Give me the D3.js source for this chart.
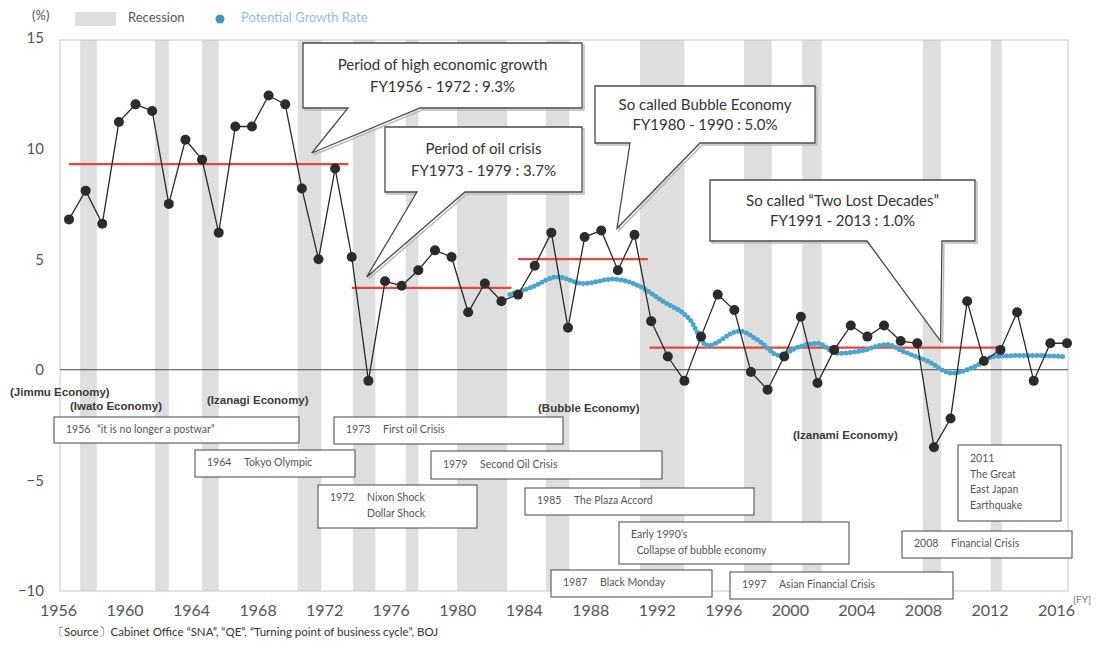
<!DOCTYPE html>
<html>
<head>
<meta charset="utf-8">
<script src="https://cdn.jsdelivr.net/npm/d3@7/dist/d3.min.js"></script>
<style>
  body { margin: 0; background: #fff; }
  svg { display: block; }
</style>
</head>
<body>
<svg id="chart" width="1100" height="648"></svg>
<script>
// ---- Data ----------------------------------------------------------------
// Real GDP growth rate by fiscal year (%)
const fiscalYears = d3.range(1956, 2017);
const realGrowth = [
  6.8, 8.1, 6.6, 11.2, 12.0, 11.7, 7.5, 10.4, 9.5, 6.2,      // 1956-1965
  11.0, 11.0, 12.4, 12.0, 8.2, 5.0, 9.1, 5.1, -0.5, 4.0,     // 1966-1975
  3.8, 4.5, 5.4, 5.1, 2.6, 3.9, 3.1, 3.4, 4.7, 6.2,          // 1976-1985
  1.9, 6.0, 6.3, 4.5, 6.1, 2.2, 0.6, -0.5, 1.5, 3.4,         // 1986-1995
  2.7, -0.1, -0.9, 0.6, 2.4, -0.6, 0.9, 2.0, 1.5, 2.0,       // 1996-2005
  1.3, 1.2, -3.5, -2.2, 3.1, 0.4, 0.9, 2.6, -0.5, 1.2,       // 2006-2015
  1.2                                                        // 2016
];

// Potential growth rate (%), fiscal-year positions
const potentialYears = [1982.5, 1983.7, 1985.4, 1986.9, 1988.7, 1990.1, 1991.7, 1993.3,
  1994.4, 1996.3, 1997.5, 1998.7, 1999.9, 2001.0, 2002.2, 2003.6, 2005.2, 2006.1,
  2007.6, 2009.1, 2010.6, 2011.6, 2013.6, 2015.9];
const potentialGrowth = [3.4, 3.7, 4.2, 3.9, 4.1, 3.85, 3.1, 2.3,
  1.1, 1.75, 1.3, 0.65, 1.05, 1.2, 0.75, 0.85, 1.15, 0.85,
  0.4, -0.15, 0.2, 0.6, 0.65, 0.6];

// Recessions: business-cycle peak and trough (calendar year, decimal months)
const recessionStart = [1957.42, 1961.92, 1964.75, 1970.50, 1973.83, 1977.00, 1980.08,
  1985.42, 1991.08, 1997.33, 2000.83, 2008.08, 2012.17];
const recessionEnd = [1958.42, 1962.75, 1965.75, 1971.92, 1975.17, 1977.75, 1983.08,
  1986.83, 1993.75, 1999.00, 2002.00, 2009.17, 2012.83];

// Period averages (%), with the span of fiscal years each line covers
const periodFrom = [1956, 1973, 1983, 1990.9];
const periodTo = [1972.8, 1982.6, 1990.8, 2012];
const periodAverage = [9.3, 3.7, 5.0, 1.0];
const periodTitle = ["Period of high economic growth", "Period of oil crisis",
  "So called Bubble Economy", "So called \u201cTwo Lost Decades\u201d"];
const periodRange = ["FY1956 - 1972 : 9.3%", "FY1973 - 1979 : 3.7%",
  "FY1980 - 1990 : 5.0%", "FY1991 - 2013 : 1.0%"];
// Point each period callout refers to (fiscal year, %)
const periodPointYear = [1970.6, 1973.9, 1988.95, 2008.4];
const periodPointValue = [9.8, 4.2, 6.4, 1.3];

// Economy booms
const economyNames = ["(Jimmu Economy)", "(Iwato Economy)", "(Izanagi Economy)",
  "(Bubble Economy)", "(Izanami Economy)"];

// Events
const eventYears = ["1956", "1964", "1973", "1972", "1979", "1985", "", "1987", "1997", "", "2008"];
const eventLines = [
  ["\u201cit is no longer a postwar\u201d"],
  ["Tokyo Olympic"],
  ["First oil Crisis"],
  ["Nixon Shock", "Dollar Shock"],
  ["Second Oil Crisis"],
  ["The Plaza Accord"],
  ["Early 1990\u2019s", "  Collapse of bubble economy"],
  ["Black Monday"],
  ["Asian Financial Crisis"],
  ["2011", "The Great", "East Japan", "Earthquake"],
  ["Financial Crisis"]
];

const tickYears = [1956, 1960, 1964, 1968, 1972, 1976, 1980, 1984, 1988, 1992, 1996, 2000, 2004, 2008, 2012, 2016];
const yTicks = [15, 10, 5, 0, -5, -10];

// ---- Layout --------------------------------------------------------------
const svg = d3.select("#chart");
const plot = { left: 60, right: 1068, top: 38, bottom: 591 };
const x = d3.scaleLinear().domain([1956, 2016]).range([69, 1067]);
const y = d3.scaleLinear().domain([-10, 15]).range([591, 38]);
const FONT = "Lato, 'Open Sans', sans-serif";

// Recession bands (fiscal year starts in April; points sit mid-year)
const calToPos = d => d - 0.75;
svg.append("g").selectAll("rect")
  .data(d3.range(recessionStart.length))
  .join("rect")
  .attr("x", i => x(calToPos(recessionStart[i])))
  .attr("width", i => x(calToPos(recessionEnd[i])) - x(calToPos(recessionStart[i])))
  .attr("y", plot.top + 2)
  .attr("height", plot.bottom - plot.top - 2)
  .attr("fill", "#dedede");

// Plot frame
svg.append("rect")
  .attr("x", plot.left).attr("y", plot.top + 2)
  .attr("width", plot.right - plot.left).attr("height", plot.bottom - plot.top - 2)
  .attr("fill", "none").attr("stroke", "#c8c8c8").attr("stroke-width", 1);

// Zero line
svg.append("line")
  .attr("x1", plot.left).attr("x2", plot.right)
  .attr("y1", y(0)).attr("y2", y(0))
  .attr("stroke", "#444").attr("stroke-width", 1.1);

// Y axis
const yAxis = svg.append("g")
  .attr("transform", `translate(44,0)`)
  .call(d3.axisLeft(y).tickValues(yTicks).tickSize(0).tickPadding(0).tickFormat(d3.format("d")));
yAxis.select(".domain").remove();
yAxis.selectAll("text")
  .attr("font-family", FONT).attr("font-size", 15).attr("fill", "#555");

// X axis (labels sit at the start of each fiscal-year column)
const xAxis = svg.append("g")
  .attr("transform", `translate(0,${plot.bottom + 14})`)
  .call(d3.axisBottom(x).tickValues(tickYears).tickSize(0).tickPadding(0).tickFormat(d3.format("d")));
xAxis.select(".domain").remove();
xAxis.selectAll("text")
  .attr("dx", -11)
  .attr("font-family", FONT).attr("font-size", 16).attr("fill", "#555");

svg.append("text").text("[FY]")
  .attr("x", 1073).attr("y", 603)
  .attr("font-family", FONT).attr("font-size", 10).attr("fill", "#777");

// Period average lines
svg.append("g").selectAll("line")
  .data(d3.range(periodAverage.length))
  .join("line")
  .attr("x1", i => x(periodFrom[i])).attr("x2", i => x(periodTo[i]))
  .attr("y1", i => y(periodAverage[i])).attr("y2", i => y(periodAverage[i]))
  .attr("stroke", "#e2483e").attr("stroke-width", 2.2);

// Potential growth rate, dotted
const potLine = d3.line()
  .x(i => x(potentialYears[i]))
  .y(i => y(potentialGrowth[i]))
  .curve(d3.curveMonotoneX);
svg.append("path")
  .attr("d", potLine(d3.range(potentialYears.length)))
  .attr("fill", "none")
  .attr("stroke", "#4aa6cd")
  .attr("stroke-width", 5)
  .attr("stroke-linecap", "round")
  .attr("stroke-dasharray", "0 4.3");

// Real growth line and markers
const growthLine = d3.line()
  .x(i => x(fiscalYears[i]))
  .y(i => y(realGrowth[i]));
svg.append("path")
  .attr("d", growthLine(d3.range(fiscalYears.length)))
  .attr("fill", "none").attr("stroke", "#2a2a2a").attr("stroke-width", 1.3);
svg.append("g").selectAll("circle")
  .data(d3.range(fiscalYears.length))
  .join("circle")
  .attr("cx", i => x(fiscalYears[i]))
  .attr("cy", i => y(realGrowth[i]))
  .attr("r", 5)
  .attr("fill", "#2b2b2b");

// Economy boom labels
const economyPos = [[10, 393], [70, 407], [207, 401], [538, 409], [793, 436]];
svg.append("g").selectAll("text")
  .data(economyNames)
  .join("text")
  .text(d => d)
  .attr("x", (d, i) => economyPos[i][0])
  .attr("y", (d, i) => economyPos[i][1])
  .attr("dominant-baseline", "middle")
  .attr("font-family", "'Liberation Sans', Arial, sans-serif")
  .attr("font-weight", "bold")
  .attr("font-size", 11.5)
  .attr("fill", "#3a3a3a");

// Period callouts: box, pointer base on the bottom edge
const calloutBox = [
  { x0: 303, y0: 43, x1: 582, y1: 108, b0: 348, b1: 420 },
  { x0: 385, y0: 127, x1: 582, y1: 192, b0: 417, b1: 465 },
  { x0: 595, y0: 86, x1: 815, y1: 143, b0: 630, b1: 700 },
  { x0: 710, y0: 180, x1: 975, y1: 241, b0: 867, b1: 942 }
];
const calloutPath = (b, tx, ty) =>
  `M${b.x0},${b.y0}H${b.x1}V${b.y1}H${b.b1}L${tx},${ty}L${b.b0},${b.y1}H${b.x0}Z`;
const callouts = svg.append("g").selectAll("g")
  .data(d3.range(calloutBox.length))
  .join("g");
callouts.append("path")
  .attr("d", i => calloutPath(calloutBox[i], x(periodPointYear[i]), y(periodPointValue[i])))
  .attr("transform", "translate(2,2)")
  .attr("fill", "none").attr("stroke", "#bbb").attr("stroke-width", 1.5);
callouts.append("path")
  .attr("d", i => calloutPath(calloutBox[i], x(periodPointYear[i]), y(periodPointValue[i])))
  .attr("fill", "#fff").attr("stroke", "#4a4a4a").attr("stroke-width", 1.3)
  .attr("stroke-linejoin", "miter");
callouts.append("text")
  .attr("x", i => (calloutBox[i].x0 + calloutBox[i].x1) / 2)
  .attr("y", i => calloutBox[i].y0 + (calloutBox[i].y1 - calloutBox[i].y0) * 0.36)
  .attr("text-anchor", "middle").attr("dominant-baseline", "middle")
  .attr("font-family", FONT).attr("font-size", 15).attr("fill", "#333")
  .text(i => periodTitle[i]);
callouts.append("text")
  .attr("x", i => (calloutBox[i].x0 + calloutBox[i].x1) / 2)
  .attr("y", i => calloutBox[i].y0 + (calloutBox[i].y1 - calloutBox[i].y0) * 0.7)
  .attr("text-anchor", "middle").attr("dominant-baseline", "middle")
  .attr("font-family", FONT).attr("font-size", 15).attr("fill", "#333")
  .text(i => periodRange[i]);

// Event boxes
const eventBox = [
  [54, 417, 299, 443], [195, 450, 355, 477], [334, 417, 563, 444], [318, 485, 477, 528],
  [431, 451, 662, 479], [525, 488, 754, 515], [619, 522, 849, 564], [551, 570, 712, 597],
  [730, 572, 953, 599], [958, 445, 1061, 521], [902, 531, 1072, 558]
];
const events = svg.append("g").selectAll("g")
  .data(d3.range(eventBox.length))
  .join("g");
events.append("rect")
  .attr("x", i => eventBox[i][0]).attr("y", i => eventBox[i][1])
  .attr("width", i => eventBox[i][2] - eventBox[i][0])
  .attr("height", i => eventBox[i][3] - eventBox[i][1])
  .attr("fill", "#fff").attr("stroke", "#555").attr("stroke-width", 1.1);
events.each(function (i) {
  const g = d3.select(this);
  const [x0, y0, x1, y1] = eventBox[i];
  const lines = eventLines[i];
  const step = lines.length > 2 ? 15.5 : 16;
  const top = (y0 + y1) / 2 - (lines.length - 1) * step / 2;
  const textX = x0 + 12;
  const labelX = eventYears[i] ? textX + (i === 0 ? 31 : 37) : textX;
  if (eventYears[i]) {
    g.append("text").text(eventYears[i])
      .attr("x", textX).attr("y", top)
      .attr("dominant-baseline", "middle")
      .attr("font-family", FONT).attr("font-size", 10.5).attr("fill", "#555");
  }
  lines.forEach((ln, k) => {
    g.append("text").text(ln)
      .attr("x", labelX).attr("y", top + k * step)
      .attr("dominant-baseline", "middle")
      .attr("xml:space", "preserve")
      .style("white-space", "pre")
      .attr("font-family", FONT).attr("font-size", 10.5).attr("fill", "#555");
  });
});

// Legend
svg.append("text").text("(%)")
  .attr("x", 32).attr("y", 17).attr("dominant-baseline", "middle")
  .attr("font-family", FONT).attr("font-size", 13).attr("fill", "#555");
svg.append("rect")
  .attr("x", 75).attr("y", 12).attr("width", 41).attr("height", 14)
  .attr("fill", "#dedede");
svg.append("text").text("Recession")
  .attr("x", 128).attr("y", 19).attr("dominant-baseline", "middle")
  .attr("font-family", FONT).attr("font-size", 13).attr("fill", "#555");
svg.append("circle")
  .attr("cx", 220).attr("cy", 19).attr("r", 4.5).attr("fill", "#3f97bd");
svg.append("text").text("Potential Growth Rate")
  .attr("x", 241).attr("y", 19).attr("dominant-baseline", "middle")
  .attr("font-family", FONT).attr("font-size", 13).attr("fill", "#93bcd8");

// Source note
svg.append("text")
  .text("\u3014Source\u3015Cabinet Office \u201cSNA\u201d, \u201cQE\u201d, \u201cTurning point of business cycle\u201d, BOJ")
  .attr("x", 52).attr("y", 633).attr("dominant-baseline", "middle")
  .attr("font-family", FONT).attr("font-size", 11.5).attr("fill", "#333");
</script>
</body>
</html>
